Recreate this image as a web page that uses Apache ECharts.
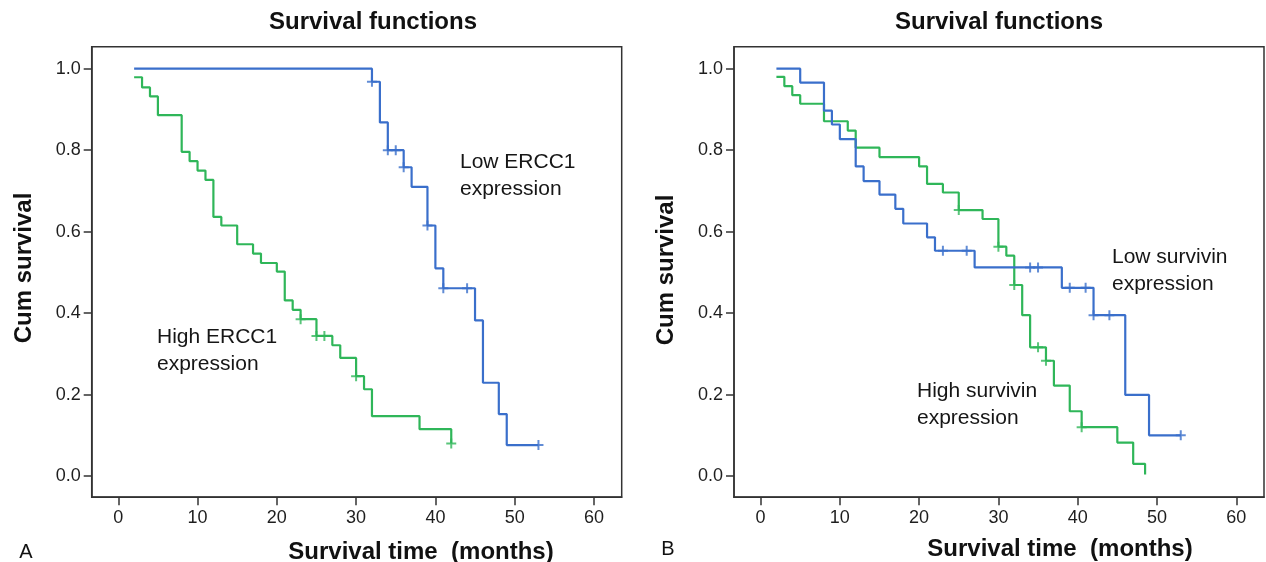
<!DOCTYPE html>
<html>
<head>
<meta charset="utf-8">
<script src="https://cdn.jsdelivr.net/npm/echarts@6.0.0/dist/echarts.min.js"></script>
<style>
  html, body { margin: 0; padding: 0; background: #fff; }
  #chart { width: 1266px; height: 562px; }
</style>
</head>
<body>
<div id="chart"></div>
<script>
// panel A: ERCC1
const ercc1HighTime = [2, 3, 4, 5, 8, 9, 10, 11, 12, 13, 15, 17, 18, 20, 21, 22, 23, 25, 27, 28, 30, 31, 32, 38, 42];
const ercc1HighSurv = [0.979, 0.954, 0.932, 0.886, 0.796, 0.773, 0.750, 0.727, 0.636, 0.615, 0.569, 0.546, 0.523, 0.502, 0.431, 0.408, 0.385, 0.344, 0.321, 0.290, 0.245, 0.213, 0.147, 0.115, 0.080];
const ercc1HighCensorTime = [23, 25, 26, 30, 42];
const ercc1HighCensorSurv = [0.385, 0.344, 0.344, 0.245, 0.080];

const ercc1LowTime = [2, 32, 33, 34, 36, 37, 39, 40, 41, 45, 46, 48, 49, 53];
const ercc1LowSurv = [1.0, 0.968, 0.868, 0.800, 0.758, 0.710, 0.615, 0.510, 0.461, 0.382, 0.229, 0.152, 0.076, 0.076];
const ercc1LowCensorTime = [32, 34, 35, 36, 39, 41, 44, 53];
const ercc1LowCensorSurv = [0.968, 0.800, 0.800, 0.758, 0.615, 0.461, 0.461, 0.076];

// panel B: survivin
const survHighTime = [2, 3, 4, 5, 8, 11, 12, 15, 20, 21, 23, 25, 28, 30, 31, 32, 33, 34, 36, 37, 39, 40.5, 45, 47, 48.5];
const survHighSurv = [0.980, 0.957, 0.935, 0.914, 0.871, 0.848, 0.806, 0.783, 0.760, 0.717, 0.696, 0.653, 0.631, 0.563, 0.541, 0.469, 0.395, 0.316, 0.283, 0.222, 0.159, 0.120, 0.082, 0.030, 0.004];
const survHighCensorTime = [25, 30, 32, 35, 36, 40.5];
const survHighCensorSurv = [0.653, 0.563, 0.469, 0.316, 0.283, 0.120];

const survLowTime = [2, 5, 8, 9, 10, 12, 13, 15, 17, 18, 21, 22, 27, 38, 42, 46, 49, 53];
const survLowSurv = [1.0, 0.966, 0.897, 0.863, 0.827, 0.760, 0.724, 0.691, 0.656, 0.620, 0.586, 0.553, 0.512, 0.462, 0.395, 0.199, 0.100, 0.100];
const survLowCensorTime = [23, 26, 34, 35, 39, 41, 42, 44, 53];
const survLowCensorSurv = [0.553, 0.553, 0.512, 0.512, 0.462, 0.462, 0.395, 0.395, 0.100];

const xTicks = [0, 10, 20, 30, 40, 50, 60];
const yTicks = [0, 0.2, 0.4, 0.6, 0.8, 1.0];

const BLUE = '#3a6fcb';
const GREEN = '#2fb659';
const FONT = '"Liberation Sans", Arial, sans-serif';
const plus = 'path://M4,0h2v10h-2zM0,4h10v2h-10z';

const zip = (a, b) => a.map((v, i) => [v, b[i]]);

function xAxis(gi) {
  return {
    type: 'value', gridIndex: gi, min: -3.35, max: 63.5,
    splitLine: { show: false },
    axisLine: { show: true, onZero: false, lineStyle: { color: '#333', width: 1.5 } },
    axisTick: { show: true, length: 8, customValues: xTicks, lineStyle: { color: '#333', width: 1.5 } },
    axisLabel: { customValues: xTicks, margin: 12, color: '#1e1e1e', fontSize: 18, fontFamily: FONT }
  };
}
function yAxis(gi) {
  return {
    type: 'value', gridIndex: gi, min: -0.052, max: 1.054,
    splitLine: { show: false },
    axisLine: { show: true, onZero: false, lineStyle: { color: '#333', width: 1.5 } },
    axisTick: { show: true, length: 8, customValues: yTicks, lineStyle: { color: '#333', width: 1.5 } },
    axisLabel: { customValues: yTicks, margin: 11, color: '#1e1e1e', fontSize: 18, fontFamily: FONT,
      formatter: v => v.toFixed(1) }
  };
}
function km(gi, t, s, color) {
  return { type: 'line', xAxisIndex: gi, yAxisIndex: gi, step: 'end', data: zip(t, s),
    showSymbol: false, silent: true, animation: false, lineStyle: { color: color, width: 2.2 } };
}
function censor(gi, t, s, color) {
  return { type: 'scatter', xAxisIndex: gi, yAxisIndex: gi, data: zip(t, s), symbol: plus,
    symbolSize: 10, silent: true, animation: false, itemStyle: { color: color } };
}
function txt(x, y, text, size, weight, extra) {
  return Object.assign({ type: 'text', x: x, y: y, style: { text: text, fontSize: size, fontWeight: weight,
    fontFamily: FONT, fill: '#111', align: 'center', verticalAlign: 'middle' } }, extra || {});
}
function note(x, y, text) {
  return { type: 'text', x: x, y: y, style: { text: text, fontSize: 21, fontFamily: FONT,
    fill: '#161616', align: 'left', verticalAlign: 'middle', lineHeight: 27 } };
}

const chart = echarts.init(document.getElementById('chart'));
chart.setOption({
  backgroundColor: '#fff',
  animation: false,
  grid: [
    { left: 91.7, top: 46.7, width: 530, height: 450.5, show: true, borderColor: '#333', borderWidth: 1.5 },
    { left: 734, top: 46.7, width: 530, height: 450.5, show: true, borderColor: '#333', borderWidth: 1.5 }
  ],
  xAxis: [xAxis(0), xAxis(1)],
  yAxis: [yAxis(0), yAxis(1)],
  series: [
    km(0, ercc1HighTime, ercc1HighSurv, GREEN),
    km(0, ercc1LowTime, ercc1LowSurv, BLUE),
    censor(0, ercc1HighCensorTime, ercc1HighCensorSurv, GREEN),
    censor(0, ercc1LowCensorTime, ercc1LowCensorSurv, BLUE),
    km(1, survHighTime, survHighSurv, GREEN),
    km(1, survLowTime, survLowSurv, BLUE),
    censor(1, survHighCensorTime, survHighCensorSurv, GREEN),
    censor(1, survLowCensorTime, survLowCensorSurv, BLUE)
  ],
  graphic: [
    txt(373, 22, 'Survival functions', 24, 'bold'),
    txt(999, 22, 'Survival functions', 24, 'bold'),
    txt(421, 552, 'Survival time  (months)', 24, 'bold'),
    txt(1060, 549, 'Survival time  (months)', 24, 'bold'),
    txt(24, 268, 'Cum survival', 24, 'bold', { rotation: Math.PI / 2 }),
    txt(666, 270, 'Cum survival', 24, 'bold', { rotation: Math.PI / 2 }),
    txt(26, 552, 'A', 20, 'normal'),
    txt(668, 549, 'B', 20, 'normal'),
    note(157, 351, 'High ERCC1\nexpression'),
    note(460, 176, 'Low ERCC1\nexpression'),
    note(1112, 271, 'Low survivin\nexpression'),
    note(917, 405, 'High survivin\nexpression')
  ]
});
</script>
</body>
</html>
